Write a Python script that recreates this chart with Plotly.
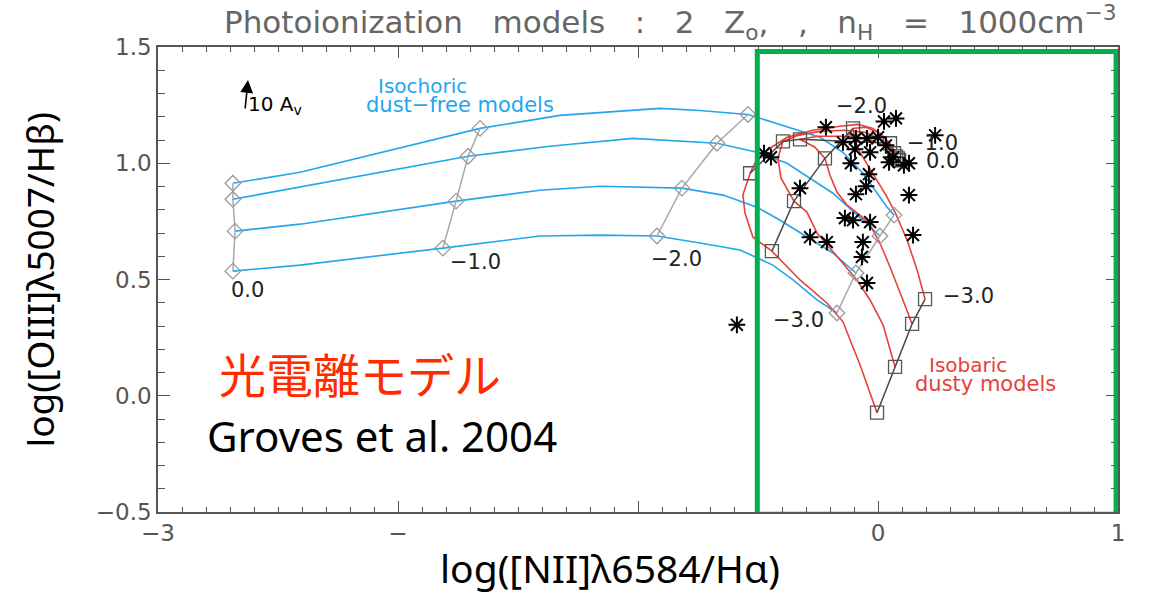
import plotly.graph_objects as go

# ---- isochoric, dust-free photoionization tracks (log NII/Ha, log OIII/Hb) ----
iso1_x = [-2.688, -2.408, -1.658, -1.325, -0.908, -0.742, -0.542, -0.408, -0.325, -0.242, -0.146, -0.063, 0.038, 0.067]
iso1_y = [0.914, 0.961, 1.150, 1.206, 1.236, 1.227, 1.210, 1.167, 1.142, 1.112, 1.047, 0.957, 0.811, 0.777]
iso2_x = [-2.688, -2.408, -1.708, -1.367, -1.021, -0.671, -0.504, -0.379, -0.271, -0.188, -0.063, 0.008]
iso2_y = [0.845, 0.897, 1.030, 1.073, 1.107, 1.086, 1.047, 1.000, 0.927, 0.871, 0.755, 0.687]
iso3_x = [-2.679, -2.408, -1.758, -1.408, -1.158, -0.817, -0.646, -0.504, -0.408, -0.296, -0.188, -0.092]
iso3_y = [0.708, 0.738, 0.837, 0.884, 0.901, 0.893, 0.863, 0.811, 0.755, 0.682, 0.614, 0.528]
iso4_x = [-2.688, -2.408, -1.813, -1.408, -1.158, -0.921, -0.742, -0.575, -0.438, -0.354, -0.254, -0.171]
iso4_y = [0.536, 0.562, 0.635, 0.687, 0.691, 0.687, 0.657, 0.627, 0.562, 0.498, 0.412, 0.356]
# indices of the log U = 0, -1, -2, -3 grid points on each track
iso1_grid = [0, 2, 6, 13]
iso2_grid = [0, 2, 5, 11]
iso3_grid = [0, 2, 5, 11]
iso4_grid = [0, 2, 5, 11]

# ---- isobaric, dusty photoionization tracks ----
dusty1_x = [0.083, 0.063, 0.029, -0.021, -0.083, -0.158, -0.271, -0.379, -0.463, -0.513, -0.533, -0.563, -0.554, -0.521, -0.442, -0.325, -0.213, -0.146, -0.075, -0.004]
dusty1_y = [1.021, 1.056, 1.107, 1.150, 1.167, 1.159, 1.142, 1.112, 1.056, 1.000, 0.957, 0.863, 0.785, 0.682, 0.622, 0.498, 0.399, 0.318, 0.133, -0.073]
dusty2_x = [0.067, 0.017, -0.054, -0.138, -0.242, -0.333, -0.396, -0.417, -0.404, -0.350, -0.296, -0.254, -0.158, -0.088, -0.033, 0.021, 0.071]
dusty2_y = [1.043, 1.099, 1.133, 1.142, 1.137, 1.120, 1.094, 1.021, 0.936, 0.837, 0.790, 0.700, 0.584, 0.498, 0.412, 0.305, 0.124]
dusty3_x = [0.075, 0.042, -0.013, -0.075, -0.158, -0.250, -0.325, -0.263, -0.221, -0.200, -0.171, -0.129, -0.075, -0.033, 0.008, 0.050, 0.104, 0.142]
dusty3_y = [1.030, 1.064, 1.094, 1.112, 1.116, 1.116, 1.103, 1.069, 1.021, 0.948, 0.876, 0.820, 0.777, 0.734, 0.657, 0.554, 0.412, 0.309]
dusty4_x = [0.088, 0.050, 0.008, -0.050, -0.104, -0.096, -0.075, -0.042, -0.004, 0.033, 0.071, 0.121, 0.163, 0.196]
dusty4_y = [1.013, 1.086, 1.129, 1.155, 1.150, 1.099, 1.047, 0.991, 0.927, 0.863, 0.790, 0.670, 0.541, 0.416]
dusty1_grid = [0, 10, 14, 19]
dusty2_grid = [0, 6, 9, 16]
dusty3_grid = [0, 6, 8, 17]
dusty4_grid = [0, 1, 4, 13]

logU_labels = ["0.0", "\u22121.0", "\u22122.0", "\u22123.0"]

# ---- observed galaxies ----
obs_x = [-0.588, -0.475, -0.446, -0.217, 0.025, 0.075, 0.238, -0.325, -0.146, -0.092, -0.096,
         -0.046, 0.000, 0.033, -0.033, -0.113, 0.046, 0.108, 0.129, -0.038, -0.050, -0.092,
         0.129, -0.138, -0.104, -0.033, -0.283, -0.213, -0.063, -0.067, -0.046, 0.146, 0.063]
obs_y = [0.305, 1.043, 1.026, 1.155, 1.180, 1.193, 1.120, 0.893, 1.090, 1.107, 1.060,
         1.107, 1.112, 1.077, 1.047, 1.000, 1.004, 0.991, 1.000, 0.953, 0.901, 0.867,
         0.863, 0.764, 0.755, 0.747, 0.682, 0.661, 0.661, 0.597, 0.485, 0.691, 1.026]

x_ticks = [-3, -2, -1, 0, 1]
x_ticktext = ["\u22123", "\u2212", "", "0", "1"]

BLUE = "#22a6ee"
RED = "#e8403a"
GREY_LINE = "#a8a8a8"
DARK_LINE = "#4a4a4a"
AXIS = "#555555"
NUM_FONT = "DejaVu Sans"
SP = "\u00a0\u00a0 "

fig = go.Figure()

iso_tracks = [(iso1_x, iso1_y, iso1_grid), (iso2_x, iso2_y, iso2_grid),
              (iso3_x, iso3_y, iso3_grid), (iso4_x, iso4_y, iso4_grid)]
dusty_tracks = [(dusty1_x, dusty1_y, dusty1_grid), (dusty2_x, dusty2_y, dusty2_grid),
                (dusty3_x, dusty3_y, dusty3_grid), (dusty4_x, dusty4_y, dusty4_grid)]

for tx, ty, _ in iso_tracks:
    fig.add_trace(go.Scatter(x=tx, y=ty, mode="lines", line=dict(color=BLUE, width=1.6),
                             hoverinfo="skip", showlegend=False))
for tx, ty, _ in dusty_tracks:
    fig.add_trace(go.Scatter(x=tx, y=ty, mode="lines", line=dict(color=RED, width=1.6),
                             hoverinfo="skip", showlegend=False))

# lines of constant log U joining the grid points of each model family
for k in range(len(logU_labels)):
    gx = [tx[g[k]] for tx, _, g in iso_tracks]
    gy = [ty[g[k]] for _, ty, g in iso_tracks]
    fig.add_trace(go.Scatter(x=gx, y=gy, mode="lines+markers",
                             line=dict(color=GREY_LINE, width=1.5),
                             marker=dict(symbol="diamond-open", size=12, color="#9a9a9a",
                                         line=dict(width=1.3)),
                             hoverinfo="skip", showlegend=False))
for k in range(len(logU_labels)):
    gx = [tx[g[k]] for tx, _, g in dusty_tracks]
    gy = [ty[g[k]] for _, ty, g in dusty_tracks]
    fig.add_trace(go.Scatter(x=gx, y=gy, mode="lines+markers",
                             line=dict(color=DARK_LINE, width=1.5),
                             marker=dict(symbol="square-open", size=13, color="#555555",
                                         line=dict(width=1.3)),
                             hoverinfo="skip", showlegend=False))

fig.add_trace(go.Scatter(x=obs_x, y=obs_y, mode="markers",
                         marker=dict(symbol="asterisk-open", size=14, color="black",
                                     line=dict(width=2, color="black")),
                         hoverinfo="skip", showlegend=False))

# highlighted region
fig.add_shape(type="rect", xref="x", yref="y", x0=-0.503, x1=0.992, y0=-0.51, y1=1.481,
              line=dict(color="#00b050", width=5), layer="above")

ann = []


def label(x, y, text, size=21, color="#222222", family=NUM_FONT, xanchor="center", **kw):
    ann.append(dict(x=x, y=y, xref="x", yref="y", text=text, showarrow=False,
                    xanchor=xanchor, yanchor="middle",
                    font=dict(family=family, size=size, color=color), **kw))


# log U labels
label(-2.629, 0.455, logU_labels[0])
label(-1.679, 0.575, logU_labels[1])
label(-0.838, 0.588, logU_labels[2])
label(-0.333, 0.326, logU_labels[3])
label(-0.067, 1.245, logU_labels[2])
label(0.229, 1.086, logU_labels[1])
label(0.267, 1.008, logU_labels[0])
label(0.379, 0.429, logU_labels[3])

label(-1.900, 1.333, "Isochoric", size=20, color=BLUE)
label(-1.742, 1.249, "dust\u2212free models", size=21, color=BLUE)
label(0.375, 0.132, "Isobaric", size=20, color=RED)
label(0.446, 0.050, "dusty models", size=21, color=RED)

# extinction vector
ann.append(dict(x=-2.625, y=1.358, xref="x", yref="y", ax=-3, ay=30, text="",
                showarrow=True, arrowhead=2, arrowsize=1.6, arrowwidth=1.6, arrowcolor="black"))
label(-2.633, 1.249, "10 A<sub>v</sub>", size=20, color="black", xanchor="left")

label(-2.754, 0.099, "光電離モデル", size=47, color="#ff2a00",
      family="Noto Sans CJK JP", xanchor="left")
label(-2.804, -0.172, "Groves et al. 2004", size=42, color="black",
      family="Noto Sans", xanchor="left")

# figure title and axis titles
ann.append(dict(x=0.0667, y=1.052, xref="paper", yref="paper", showarrow=False,
                xanchor="left", yanchor="middle",
                text="Photoionization" + SP + "models" + SP + ":" + SP + "2" + SP
                     + "Z<sub>o</sub>," + SP + "," + SP + "n<sub>H</sub>" + SP + "=" + SP
                     + "1000cm<sup>\u22123</sup>",
                font=dict(family=NUM_FONT, size=31, color="#666666")))
ann.append(dict(x=-0.123, y=0.50, xref="paper", yref="paper", showarrow=False,
                textangle=-90, xanchor="center", yanchor="middle",
                text="log([OIII]\u03bb5007/H\u03b2)",
                font=dict(family="Noto Sans", size=37, color="black")))
ann.append(dict(x=0.471, y=-0.119, xref="paper", yref="paper", showarrow=False,
                xanchor="center", yanchor="middle",
                text="log([NII]\u03bb6584/H\u03b1)",
                font=dict(family="Noto Sans", size=39, color="black")))

axis_common = dict(showgrid=False, zeroline=False, showline=True, linecolor=AXIS, linewidth=1.5,
                   mirror="ticks", ticks="inside", tickcolor=AXIS, tickwidth=1.3,
                   tickfont=dict(family=NUM_FONT, size=23, color="#555555"))

fig.update_layout(
    width=1149, height=593,
    margin=dict(l=158, r=31, t=47, b=81),
    paper_bgcolor="white", plot_bgcolor="white",
    annotations=ann,
    xaxis=dict(range=[-3, 1], tickvals=x_ticks, ticktext=x_ticktext, ticklen=11,
               minor=dict(dtick=0.1, tick0=0, ticks="inside", ticklen=5, tickcolor=AXIS),
               **axis_common),
    yaxis=dict(range=[-0.5, 1.5], dtick=0.5, tick0=0, tickformat=".1f", ticklen=12,
               minor=dict(dtick=0.1, tick0=0, ticks="inside", ticklen=7, tickcolor=AXIS),
               **axis_common),
)

fig.write_html("out.html")
